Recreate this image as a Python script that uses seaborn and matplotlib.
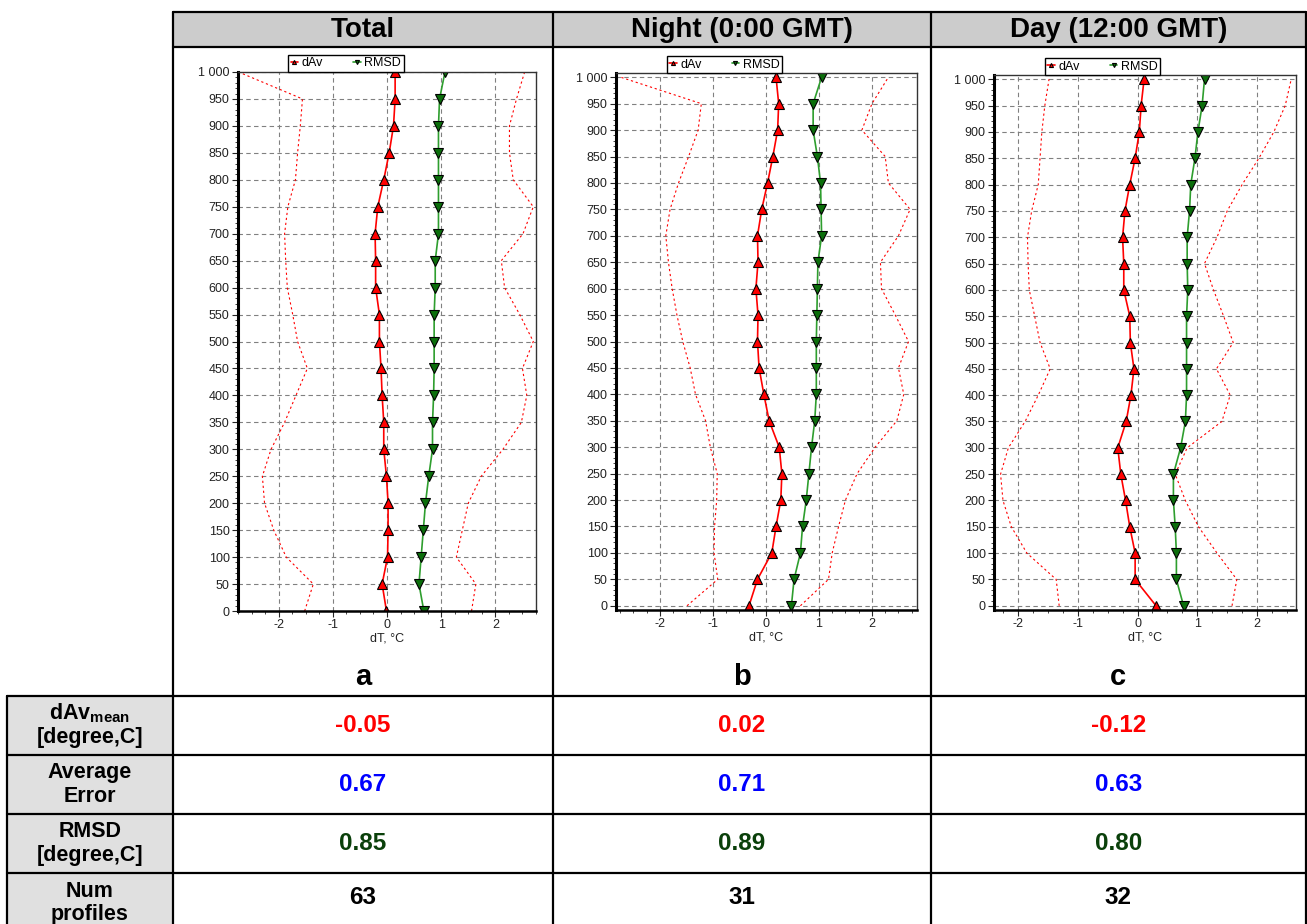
import matplotlib
matplotlib.use('Agg')
import pandas as pd
import seaborn as sns
from matplotlib import pyplot as plt
from matplotlib.ticker import MultipleLocator, FuncFormatter
from matplotlib.patches import Rectangle

W, H = 1307, 924

levels = [0, 50, 100, 150, 200, 250, 300, 350, 400, 450, 500,
          550, 600, 650, 700, 750, 800, 850, 900, 950, 1000]

# panel a: Total
dav_a = [-0.01, -0.09, 0.01, 0.02, 0.02, -0.01, -0.06, -0.06, -0.09, -0.11, -0.14,
         -0.14, -0.21, -0.21, -0.22, -0.17, -0.06, 0.04, 0.12, 0.15, 0.15]
rmsd_a = [0.68, 0.59, 0.63, 0.67, 0.71, 0.77, 0.84, 0.84, 0.86, 0.87, 0.87,
          0.87, 0.89, 0.89, 0.95, 0.95, 0.95, 0.95, 0.95, 0.97, 1.07]
lo_a = [-1.52, -1.36, -1.86, -2.09, -2.26, -2.30, -2.14, -1.89, -1.68, -1.47, -1.65,
        -1.74, -1.84, -1.87, -1.89, -1.83, -1.69, -1.65, -1.60, -1.56, -2.74]
hi_a = [1.56, 1.64, 1.28, 1.39, 1.50, 1.74, 2.14, 2.48, 2.58, 2.50, 2.70,
        2.45, 2.17, 2.11, 2.51, 2.70, 2.33, 2.26, 2.26, 2.39, 2.54]

# panel b: Night
dav_b = [-0.32, -0.16, 0.11, 0.19, 0.28, 0.30, 0.25, 0.06, -0.04, -0.13, -0.16,
         -0.15, -0.19, -0.15, -0.16, -0.08, 0.03, 0.13, 0.22, 0.24, 0.19]
rmsd_b = [0.48, 0.53, 0.65, 0.69, 0.76, 0.81, 0.86, 0.92, 0.95, 0.95, 0.95,
          0.96, 0.97, 0.98, 1.05, 1.04, 1.03, 0.97, 0.89, 0.89, 1.05]
lo_b = [-1.49, -0.91, -0.98, -0.97, -0.93, -0.92, -1.05, -1.14, -1.33, -1.43, -1.57,
        -1.68, -1.77, -1.84, -1.89, -1.81, -1.65, -1.46, -1.28, -1.22, -2.74]
hi_b = [0.65, 1.18, 1.25, 1.37, 1.50, 1.72, 2.06, 2.47, 2.60, 2.50, 2.69,
        2.44, 2.18, 2.16, 2.50, 2.72, 2.31, 2.25, 1.81, 2.00, 2.31]

# panel c: Day
dav_c = [0.31, -0.04, -0.04, -0.13, -0.20, -0.28, -0.33, -0.19, -0.11, -0.06, -0.12,
         -0.13, -0.23, -0.23, -0.25, -0.21, -0.13, -0.04, 0.03, 0.06, 0.11]
rmsd_c = [0.77, 0.65, 0.65, 0.63, 0.60, 0.60, 0.72, 0.80, 0.82, 0.82, 0.82,
          0.82, 0.84, 0.83, 0.83, 0.87, 0.89, 0.96, 1.01, 1.08, 1.12]
lo_c = [-1.31, -1.36, -1.85, -2.11, -2.25, -2.29, -2.16, -1.88, -1.66, -1.46, -1.63,
        -1.72, -1.81, -1.83, -1.84, -1.77, -1.66, -1.63, -1.60, -1.55, -1.48]
hi_c = [1.58, 1.66, 1.33, 1.02, 0.80, 0.63, 0.83, 1.41, 1.55, 1.32, 1.60,
        1.44, 1.27, 1.12, 1.33, 1.50, 1.75, 2.03, 2.28, 2.47, 2.57]

headers = ['Total', 'Night (0:00 GMT)', 'Day (12:00 GMT)']
letters = ['a', 'b', 'c']
dav_mean = ['-0.05', '0.02', '-0.12']
avg_error = ['0.67', '0.71', '0.63']
rmsd_mean = ['0.85', '0.89', '0.80']
num_profiles = ['63', '31', '32']

sns.set_style('white')
plt.rcParams['font.family'] = ['Liberation Sans', 'DejaVu Sans']
plt.rcParams['text.color'] = 'black'
plt.rcParams['axes.labelcolor'] = 'black'
plt.rcParams['axes.unicode_minus'] = False
plt.rcParams['mathtext.fontset'] = 'custom'
plt.rcParams['mathtext.rm'] = 'Liberation Sans:bold'
plt.rcParams['mathtext.bf'] = 'Liberation Sans:bold'

fig = plt.figure(figsize=(W / 100, H / 100), dpi=100)

# background table drawn in pixel coordinates
bg = fig.add_axes([0, 0, 1, 1], zorder=0)
bg.set_xlim(0, W)
bg.set_ylim(H, 0)
bg.axis('off')

col_x = [173, 553, 930.5, 1306]
row_y = [695.7, 755, 814, 872.7, 940]
bg.add_patch(Rectangle((173, 12), 1306 - 173, 35, color='#cccccc', lw=0))
bg.add_patch(Rectangle((7, 695.7), 166, 250, color='#e0e0e0', lw=0))
lw = 1.6
for y in [12, 47]:
    bg.plot([173, 1306], [y, y], color='black', lw=lw)
for y in row_y[:-1]:
    bg.plot([7, 1306], [y, y], color='black', lw=lw)
for x in col_x:
    bg.plot([x, x], [12, 940], color='black', lw=lw)
bg.plot([7, 7], [695.7, 940], color='black', lw=lw)

centers = [(col_x[i] + col_x[i + 1]) / 2 for i in range(3)]
for i in range(3):
    bg.text(centers[i], 30, headers[i], ha='center', va='center',
            fontsize=20, fontweight='bold', color='black')
    bg.text(centers[i], 677, letters[i], ha='center', va='center',
            fontsize=21, fontweight='bold', color='black')

row_labels = ['dAv$_{\\mathrm{mean}}$\n[degree,C]', 'Average\nError',
              'RMSD\n[degree,C]', 'Num\nprofiles']
row_values = [dav_mean, avg_error, rmsd_mean, num_profiles]
row_colors = ['#ff0000', '#0000ff', '#0a400a', 'black']
label_y = [725, 784.5, 843.5, 903]
value_y = [725, 784.5, 843.5, 897]
for r in range(4):
    bg.text(90, label_y[r], row_labels[r], ha='center', va='center', ma='center',
            fontsize=15.5, fontweight='bold', linespacing=1.15, color='black')
    for i in range(3):
        bg.text(centers[i], value_y[r], row_values[r][i],
                ha='center', va='center', fontsize=17.5, fontweight='bold',
                color=row_colors[r])

panels = [
    (dav_a, rmsd_a, lo_a, hi_a, (238, 72, 536, 611), (-2.75, 2.75), (0, 1000)),
    (dav_b, rmsd_b, lo_b, hi_b, (616, 73, 917, 610), (-2.83, 2.85), (-8, 1008)),
    (dav_c, rmsd_c, lo_c, hi_c, (994, 75, 1296, 610), (-2.4, 2.65), (-8, 1008)),
]

for dav, rmsd, lo, hi, (l, t, r, b), xlim, ylim in panels:
    ax = fig.add_axes([l / W, 1 - b / H, (r - l) / W, (b - t) / H], zorder=2)
    df = pd.DataFrame({'level': levels, 'dav': dav, 'rmsd': rmsd, 'lo': lo, 'hi': hi})
    for col in ['lo', 'hi']:
        sns.lineplot(data=df, x=col, y='level', orient='y', sort=False, ax=ax,
                     color='red', lw=0.8, dashes=False, linestyle=(0, (2, 2.5)),
                     legend=False)
    sns.lineplot(data=df, x='dav', y='level', orient='y', sort=False, ax=ax,
                 color='red', lw=1.2, marker='^', markersize=6.5,
                 markerfacecolor='red', markeredgecolor='black',
                 markeredgewidth=0.8, label='dAv')
    sns.lineplot(data=df, x='rmsd', y='level', orient='y', sort=False, ax=ax,
                 color='#2e9e2e', lw=1.2, marker='v', markersize=6.5,
                 markerfacecolor='#0b6e0b', markeredgecolor='black',
                 markeredgewidth=0.8, label='RMSD')
    ax.set_xlim(*xlim)
    ax.set_ylim(*ylim)
    ax.set_xlabel('dT, °C', fontsize=9, labelpad=1, color='#222222')
    ax.set_ylabel('')
    ax.xaxis.set_major_locator(MultipleLocator(1))
    ax.xaxis.set_minor_locator(MultipleLocator(0.25))
    ax.yaxis.set_major_locator(MultipleLocator(50))
    ax.yaxis.set_minor_locator(MultipleLocator(10))
    ax.yaxis.set_major_formatter(FuncFormatter(lambda v, p: f'{int(v):,}'.replace(',', ' ')))
    ax.tick_params(which='major', direction='out', length=4, width=0.8,
                   labelsize=9, labelcolor='#222222', left=True, bottom=True, pad=2)
    ax.tick_params(which='minor', direction='out', length=2, width=0.6,
                   left=True, bottom=True)
    ax.grid(True, which='major', color='#808080', linestyle=(0, (4, 3)), lw=0.8)
    for side in ['top', 'right']:
        ax.spines[side].set_linewidth(1.0)
        ax.spines[side].set_color('#333333')
    ax.spines['left'].set_linewidth(2.2)
    ax.spines['bottom'].set_linewidth(1.8)
    for side in ['left', 'bottom']:
        ax.spines[side].set_color('black')
    leg = ax.legend(loc='lower left', bbox_to_anchor=(0.168, 1.0), ncol=2,
                    fontsize=9, frameon=True, fancybox=False, framealpha=1,
                    edgecolor='black', borderpad=0.2, handlelength=0.6,
                    handletextpad=0.3, columnspacing=2.4, markerscale=0.45,
                    borderaxespad=0)
    leg.get_frame().set_linewidth(1.0)

fig.savefig('out.png', dpi=100)
